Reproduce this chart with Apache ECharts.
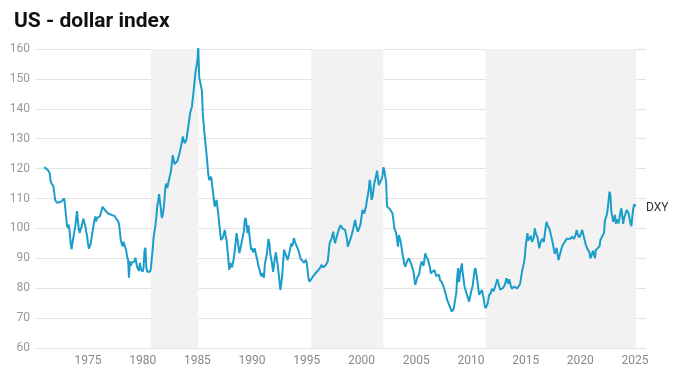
<!DOCTYPE html>
<html>
<head>
<meta charset="utf-8">
<script src="https://cdn.jsdelivr.net/npm/echarts@6/dist/echarts.min.js"></script>
<style>html,body{margin:0;padding:0;background:#fff}#c{width:687px;height:380px}</style>
</head>
<body>
<div id="c"></div>
<script>
// ---- data ----
const title = 'US - dollar index';
const seriesName = 'DXY';
const xTicks = [1975, 1980, 1985, 1990, 1995, 2000, 2005, 2010, 2015, 2020, 2025];
const yMin = 60, yMax = 160, yStep = 10;
const shaded = [[1980.74, 1985.08], [1995.4, 2002.0], [2011.34, 2025.08]];

const dates70s = ['1971-01','1971-03','1971-05','1971-07','1971-08','1971-09','1971-11','1971-12',
 '1972-01','1972-03','1972-05','1972-07','1972-09','1972-11',
 '1973-01','1973-02','1973-03','1973-04','1973-05','1973-06','1973-07','1973-08','1973-09','1973-10','1973-11','1973-12',
 '1974-01','1974-02','1974-03','1974-04','1974-05','1974-06','1974-07','1974-08','1974-09','1974-10','1974-11','1974-12',
 '1975-01','1975-02','1975-03','1975-04','1975-05','1975-06','1975-07','1975-08','1975-09','1975-10','1975-11','1975-12',
 '1976-02','1976-03','1976-05','1976-06','1976-08','1976-09','1976-11',
 '1977-01','1977-03','1977-05','1977-06','1977-08','1977-09','1977-10','1977-11','1977-12',
 '1978-01','1978-02','1978-03','1978-04','1978-05','1978-06','1978-07','1978-08','1978-09','1978-10','1978-11','1978-12',
 '1979-01','1979-03','1979-04','1979-05','1979-06','1979-07','1979-08','1979-09','1979-10','1979-11','1979-12'];
const dxy70s = [120.5,120.2,119.5,118.5,116.0,115.0,114.2,112.0,
 109.5,108.6,108.4,108.8,109.3,110.0,
 109.8,101.0,100.2,101.3,98.5,95.0,93.0,95.2,94.8,95.5,100.5,103.0,
 105.8,102.5,99.5,98.5,99.8,100.5,101.0,103.2,102.0,101.0,99.0,97.5,
 95.0,93.2,94.0,95.0,94.8,95.5,100.8,102.5,104.0,102.3,103.5,103.5,
 104.0,105.0,107.2,106.8,106.0,105.5,105.0,
 105.3,104.5,105.0,104.2,103.2,103.5,102.5,101.5,99.0,
 96.0,96.5,94.0,95.5,95.0,95.2,92.5,90.5,89.5,83.5,89.0,87.5,
 88.5,88.2,89.0,90.2,90.5,87.0,86.5,85.8,88.5,86.5,86.0];

const dates80s = ['1980-01','1980-02','1980-03','1980-04','1980-05','1980-06','1980-07','1980-08','1980-09','1980-10','1980-11','1980-12',
 '1981-01','1981-02','1981-03','1981-04','1981-05','1981-06','1981-07','1981-08','1981-09','1981-10','1981-11','1981-12',
 '1982-01','1982-02','1982-03','1982-04','1982-06','1982-08','1982-10','1982-12',
 '1983-03','1983-05','1983-07','1983-09','1983-11',
 '1984-01','1984-03','1984-05','1984-07','1984-09','1984-11',
 '1985-01','1985-02','1985-03','1985-04','1985-05','1985-06','1985-07','1985-09','1985-11',
 '1986-01','1986-02','1986-04','1986-06','1986-08','1986-10','1986-12',
 '1987-02','1987-03','1987-05','1987-07','1987-08','1987-09','1987-10','1987-12',
 '1988-01','1988-03','1988-05','1988-07','1988-08','1988-09','1988-11','1988-12',
 '1989-02','1989-04','1989-05','1989-06','1989-08','1989-09','1989-11','1989-12'];
const dxy80s = [85.5,87.0,92.5,93.5,87.0,85.5,85.5,86.0,85.5,86.5,90.0,93.0,
 97.0,99.0,101.0,104.0,107.5,109.0,111.5,112.0,106.5,103.5,104.5,106.5,
 110.0,114.0,115.0,113.5,116.5,119.0,124.5,121.5,
 122.5,124.6,127.3,130.7,128.5,
 129.6,134.0,138.5,140.7,146.3,152.4,
 156.0,160.5,150.5,149.0,148.5,146.0,138.0,131.0,125.0,
 118.0,116.2,117.3,112.5,107.3,109.5,104.5,
 98.5,96.1,97.0,99.5,97.5,96.1,93.0,86.1,
 88.5,87.0,90.0,95.5,98.4,96.5,91.7,93.0,
 96.0,99.0,102.8,103.5,98.4,101.0,95.0,92.8];

const dates90s = ['1990-01','1990-02','1990-04','1990-05','1990-07','1990-08','1990-09','1990-10','1990-11','1990-12',
 '1991-02','1991-03','1991-05','1991-07','1991-08','1991-09','1991-11','1991-12',
 '1992-02','1992-03','1992-05','1992-07','1992-08','1992-09','1992-10','1992-11','1992-12',
 '1993-02','1993-04','1993-06','1993-08','1993-09','1993-11','1993-12',
 '1994-02','1994-04','1994-06','1994-08','1994-10','1994-12',
 '1995-01','1995-03','1995-04','1995-06','1995-08','1995-10','1995-12',
 '1996-02','1996-04','1996-05','1996-07','1996-09','1996-10','1996-12',
 '1997-02','1997-04','1997-06','1997-07','1997-08','1997-10','1997-12',
 '1998-02','1998-04','1998-06','1998-07','1998-09','1998-10','1998-12',
 '1999-02','1999-04','1999-06','1999-07','1999-09','1999-11','1999-12'];
const dxy90s = [93.5,92.0,93.3,91.5,89.0,87.2,86.5,85.0,84.0,85.0,
 83.5,88.0,91.0,96.5,95.0,91.5,88.0,85.5,
 90.0,92.0,88.0,82.5,79.4,80.0,84.0,88.5,92.8,
 93.0,89.4,92.0,95.0,94.0,96.7,95.5,
 95.0,92.5,90.0,89.5,88.5,89.5,
 88.3,83.0,82.2,81.6,84.0,84.5,85.5,
 86.0,87.0,87.8,87.0,87.0,87.8,89.0,
 95.0,96.5,98.9,96.5,95.0,97.5,99.5,
 101.1,100.0,100.5,99.5,96.5,93.9,94.5,
 97.5,100.0,102.8,101.0,98.9,100.5,101.5];

const dates00s = ['2000-02','2000-04','2000-06','2000-07','2000-09','2000-10','2000-11','2000-12',
 '2001-01','2001-03','2001-05','2001-06','2001-08','2001-09','2001-11','2001-12',
 '2002-01','2002-02','2002-03','2002-04','2002-05','2002-06','2002-08','2002-10','2002-11','2002-12',
 '2003-01','2003-03','2003-05','2003-06','2003-08','2003-10','2003-12',
 '2004-01','2004-03','2004-05','2004-07','2004-09','2004-10','2004-11','2004-12',
 '2005-02','2005-04','2005-06','2005-07','2005-09','2005-11','2005-12',
 '2006-02','2006-04','2006-05','2006-07','2006-09','2006-11','2006-12',
 '2007-02','2007-03','2007-05','2007-07','2007-09','2007-11',
 '2008-01','2008-03','2008-04','2008-06','2008-07','2008-09','2008-10','2008-11','2008-12',
 '2009-01','2009-03','2009-04','2009-06','2009-08','2009-10','2009-11'];
const dxy00s = [106.2,105.0,107.5,109.5,113.0,116.2,114.0,109.5,
 110.5,115.0,117.5,119.3,114.5,113.9,116.5,117.5,
 120.4,119.5,117.5,115.5,107.3,107.0,106.5,106.4,105.0,102.8,
 100.0,98.5,93.9,97.8,95.5,91.5,88.0,
 87.2,89.0,90.0,88.5,88.5,85.5,83.0,81.1,
 83.5,84.5,88.0,88.9,87.5,91.7,90.5,
 89.5,87.0,85.0,85.5,86.1,84.0,83.5,
 84.5,82.8,82.0,80.5,78.5,76.0,
 76.6,73.0,72.2,73.0,73.3,78.5,84.0,86.7,82.0,
 85.0,88.3,85.0,80.5,78.5,76.5,75.5];

const dates10s = ['2010-01','2010-03','2010-05','2010-06','2010-08','2010-10','2010-11',
 '2011-01','2011-03','2011-04','2011-05','2011-07','2011-09','2011-11','2011-12',
 '2012-02','2012-04','2012-06','2012-07','2012-09','2012-10','2012-12',
 '2013-02','2013-04','2013-06','2013-07','2013-09','2013-10','2013-12',
 '2014-02','2014-04','2014-05','2014-07','2014-09','2014-10','2014-11','2014-12',
 '2015-01','2015-03','2015-04','2015-05','2015-07','2015-08','2015-10','2015-11','2015-12',
 '2016-02','2016-04','2016-05','2016-07','2016-09','2016-11','2016-12',
 '2017-01','2017-03','2017-05','2017-06','2017-08','2017-09','2017-11',
 '2018-01','2018-03','2018-05','2018-07','2018-08','2018-10','2018-12',
 '2019-02','2019-04','2019-06','2019-08','2019-09','2019-10','2019-12'];
const dxy10s = [78.5,81.0,86.0,86.7,82.8,77.8,78.3,
 79.4,76.5,74.5,73.3,74.5,77.7,78.5,79.8,
 79.0,79.5,83.0,82.5,79.5,79.4,80.0,
 81.0,83.3,81.5,83.0,80.5,79.8,80.5,
 80.5,80.0,79.8,81.5,85.5,86.1,88.3,90.0,
 94.0,98.4,96.0,95.6,97.5,95.5,97.0,100.0,98.5,
 97.0,93.3,95.0,96.5,95.5,100.5,102.2,
 101.0,100.0,97.5,96.1,93.0,91.5,93.5,
 89.4,89.8,94.0,95.0,95.6,96.5,97.0,
 96.5,97.2,96.5,98.0,99.5,98.0,97.0];

const dates20s = ['2020-02','2020-03','2020-05','2020-07','2020-09','2020-11','2020-12',
 '2021-01','2021-03','2021-05','2021-06','2021-08','2021-10','2021-11',
 '2022-01','2022-03','2022-04','2022-06','2022-07','2022-09','2022-10','2022-11','2022-12',
 '2023-01','2023-03','2023-04','2023-05','2023-07','2023-09','2023-10','2023-12',
 '2024-01','2024-03','2024-04','2024-06','2024-08','2024-09','2024-10','2024-11','2024-12',
 '2025-01','2025-02'];
const dxy20s = [98.5,99.5,99.0,94.5,93.0,92.0,90.0,
 90.5,92.5,90.0,92.8,92.8,94.0,96.1,
 95.8,98.5,102.8,104.5,106.5,112.3,111.0,105.5,104.0,
 102.2,104.5,101.5,103.0,101.7,105.5,106.7,101.5,
 103.5,104.0,106.2,105.0,101.5,100.8,104.0,106.5,108.0,
 108.4,107.5];

// ---- build ----
function toYear(s){ const p = s.split('-'); return +p[0] + (+p[1]-1)/12; }
const allDates = [].concat(dates70s, dates80s, dates90s, dates00s, dates10s, dates20s);
const allVals = [].concat(dxy70s, dxy80s, dxy90s, dxy00s, dxy10s, dxy20s);
const points = allDates.map((d,i)=>[toYear(d), allVals[i]]);

const font = 'Roboto, "Noto Sans", sans-serif';
const chart = echarts.init(document.getElementById('c'), null, {renderer:'canvas'});
chart.setOption({
  animation: false,
  backgroundColor: '#fff',
  title: {
    text: title, left: 9, top: 6,
    textStyle: {fontFamily: font, fontSize: 21, fontWeight: 'bold', color: '#111'}
  },
  grid: {left: 35, right: 41, top: 49, bottom: 32, containLabel: false},
  xAxis: {
    type: 'value', min: 1970.16, max: 2026.0,
    splitLine: {show: false},
    axisLine: {show: false}, axisTick: {show: false},
    axisLabel: {customValues: xTicks, color: '#888', fontFamily: font, fontSize: 12, margin: 7,
      formatter: v => String(Math.round(v))}
  },
  yAxis: {
    type: 'value', min: yMin, max: yMax, interval: yStep,
    axisLine: {show: false}, axisTick: {show: false},
    splitLine: {lineStyle: {color: '#e3e3e3', width: 1}},
    axisLabel: {color: '#999', fontFamily: font, fontSize: 12, margin: 5}
  },
  series: [{
    name: seriesName, type: 'line', data: points, showSymbol: false, symbol: 'none',
    lineStyle: {color: '#1b9dcb', width: 2}, itemStyle: {color: '#1b9dcb'},
    endLabel: {show: true, formatter: seriesName, color: '#333', fontFamily: font, fontSize: 12, distance: 10, offset: [0, 2]},
    markArea: {
      silent: true,
      itemStyle: {color: '#f2f2f2'},
      data: shaded.map(r => [{xAxis: r[0]}, {xAxis: r[1]}])
    },
    z: 3
  }]
});
</script>
</body>
</html>
